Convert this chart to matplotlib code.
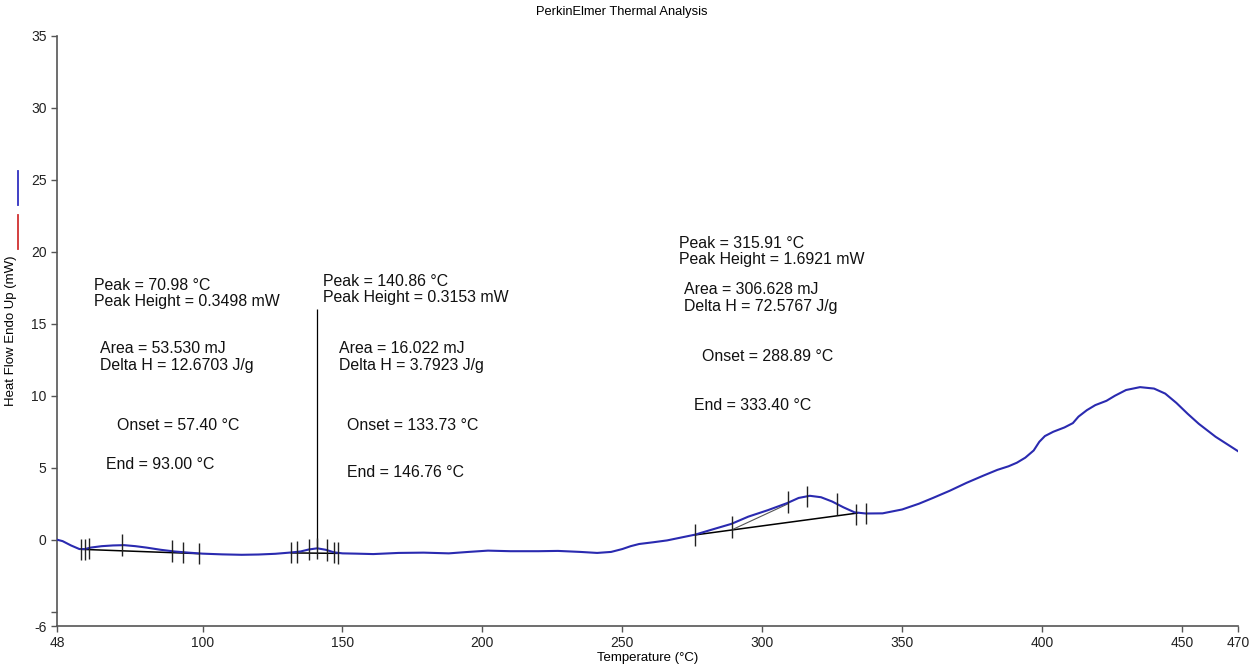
import numpy as np
import matplotlib.pyplot as plt
from matplotlib.lines import Line2D

plt.rcParams['font.family'] = ['Liberation Sans', 'DejaVu Sans']

# Courbe DSC
temp = [48, 50, 53, 56, 58, 60, 64, 68, 72, 76, 80, 85, 90, 95, 100, 107, 114,
        120, 126, 131, 135, 138, 141, 144, 147, 150, 155, 161, 170, 179, 188,
        195, 202, 210, 220, 227, 235, 241, 246, 250, 253, 256, 261, 266, 271,
        276, 282, 289, 295, 302, 309, 313, 317, 321, 325, 329, 333, 337, 343,
        350, 356, 361, 367, 373, 379, 384, 388, 391, 394, 397, 399, 401, 404,
        408, 411, 413, 416, 419, 423, 426, 430, 435, 440, 444, 448, 452, 456,
        462, 466, 470]
heat_flow = [0.0, -0.1, -0.4, -0.65, -0.65, -0.55, -0.45, -0.4, -0.38, -0.45,
             -0.55, -0.7, -0.82, -0.9, -0.97, -1.02, -1.05, -1.03, -0.98, -0.9,
             -0.82, -0.68, -0.6, -0.7, -0.88, -0.95, -0.97, -1.0, -0.92, -0.9,
             -0.95, -0.85, -0.76, -0.8, -0.8, -0.78, -0.85, -0.92, -0.85, -0.65,
             -0.45, -0.3, -0.18, -0.05, 0.15, 0.35, 0.7, 1.1, 1.6, 2.05, 2.55,
             2.9, 3.05, 2.95, 2.65, 2.25, 1.9, 1.82, 1.83, 2.1, 2.5, 2.9, 3.4,
             3.95, 4.45, 4.85, 5.1, 5.35, 5.7, 6.2, 6.8, 7.2, 7.5, 7.8, 8.1,
             8.55, 9.0, 9.35, 9.65, 10.0, 10.4, 10.6, 10.5, 10.15, 9.5, 8.75,
             8.05, 7.15, 6.65, 6.15]

# Marqueurs des pics (x, y centre)
mark_x = [56.7, 57.9, 59.4, 71.3, 89, 93, 98.7,
          131.7, 133.8, 138, 141, 144.5, 146.9, 148.5,
          276, 289.3, 309.3, 316, 326.8, 333.6, 337.1]
mark_y = [-0.67, -0.67, -0.62, -0.38, -0.8, -0.88, -0.95,
          -0.9, -0.86, -0.68, -0.6, -0.72, -0.88, -0.93,
          0.33, 0.9, 2.6, 3.0, 2.5, 1.74, 1.83]

# Lignes de base (x0, y0, x1, y1)
baselines = [(56.7, -0.67, 98.7, -0.97),
             (131.7, -0.92, 148.5, -0.95),
             (276, 0.33, 334, 1.85)]
tangent = (289.3, 0.7, 309.3, 2.5)
peak2_line = (141, -0.6, 16.0)

# Textes des résultats
labels = ["Peak = 70.98 °C\nPeak Height = 0.3498 mW",
          "Area = 53.530 mJ\nDelta H = 12.6703 J/g",
          "Onset = 57.40 °C",
          "End = 93.00 °C",
          "Peak = 140.86 °C\nPeak Height = 0.3153 mW",
          "Area = 16.022 mJ\nDelta H = 3.7923 J/g",
          "Onset = 133.73 °C",
          "End = 146.76 °C",
          "Peak = 315.91 °C\nPeak Height = 1.6921 mW",
          "Area = 306.628 mJ\nDelta H = 72.5767 J/g",
          "Onset = 288.89 °C",
          "End = 333.40 °C"]
label_x = [61.1, 63.2, 69.3, 65.4, 142.9, 148.9, 151.8, 151.8, 270.4, 272.1, 278.6, 275.7]
label_y = [17.1, 12.7, 7.9, 5.2, 17.4, 12.7, 7.9, 4.7, 20.0, 16.8, 12.7, 9.3]

x_ticks = [48, 100, 150, 200, 250, 300, 350, 400, 450, 470]
y_ticks = [-6, -5, 0, 5, 10, 15, 20, 25, 30, 35]
y_ticklabels = ['-6', '', '0', '5', '10', '15', '20', '25', '30', '35']

Bleu = '#2a2ab0'
Gris = '#555555'

fig = plt.figure(figsize=(12.5, 6.66), dpi=100)
ax = fig.add_axes([0.0456, 0.060, 0.9448, 0.886])

ax.plot(temp, heat_flow, color=Bleu, linewidth=1.5, zorder=3)
for x0, y0, x1, y1 in baselines:
    ax.plot([x0, x1], [y0, y1], color='black', linewidth=1.1, zorder=2)
ax.plot([tangent[0], tangent[2]], [tangent[1], tangent[3]], color=Gris, linewidth=0.8, zorder=2)
ax.vlines(peak2_line[0], peak2_line[1], peak2_line[2], color='black', linewidth=0.9)
ax.vlines(mark_x, np.array(mark_y) - 0.75, np.array(mark_y) + 0.75, color='#222222', linewidth=1.0, zorder=4)

for txt, x, y in zip(labels, label_x, label_y):
    ax.text(x, y, txt, fontsize=11.4, ha='left', va='center', linespacing=1.1, color='#111111')

ax.set_xlim(48, 470)
ax.set_ylim(-6, 35)
ax.set_xticks(x_ticks)
ax.set_yticks(y_ticks)
ax.set_yticklabels(y_ticklabels)
ax.tick_params(labelsize=10, length=4, width=1, color=Gris, labelcolor='#222222')
for s in ['top', 'right']:
    ax.spines[s].set_visible(False)
for s in ['left', 'bottom']:
    ax.spines[s].set_color(Gris)
    ax.spines[s].set_linewidth(1.2)

ax.set_xlabel('Temperature (°C)', fontsize=9.5, labelpad=1)
ax.set_ylabel('Heat Flow Endo Up (mW)', fontsize=9.5)
ax.yaxis.set_label_coords(-0.034, 0.5)
fig.text(0.497, 0.982, 'PerkinElmer Thermal Analysis', fontsize=9.3, ha='center', va='center')

# Repères de courbes à gauche
fig.add_artist(Line2D([18/1250, 18/1250], [1 - 171/666, 1 - 205/666], color='#3030c0', linewidth=1.3))
fig.add_artist(Line2D([18/1250, 18/1250], [1 - 215/666, 1 - 249/666], color='#d03030', linewidth=1.3))

fig.savefig('out.png', dpi=100)
